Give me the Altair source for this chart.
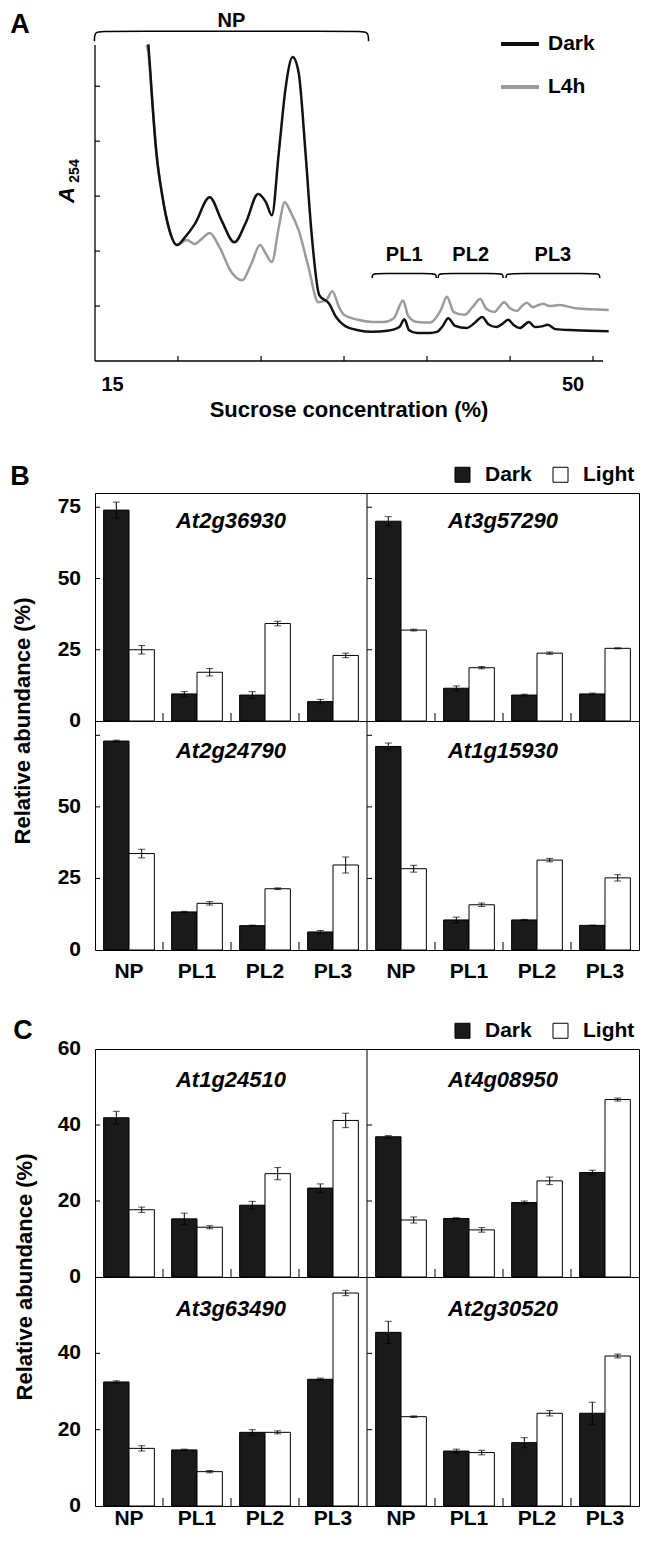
import altair as alt
import pandas as pd

FONT = "Liberation Sans"

# ---------------- Panel A data (sucrose %, A254 arbitrary units) ----------------
sucrose_dark = [18.75, 18.89, 19.03, 19.31, 19.72, 20.21, 20.76, 21.32, 22.01, 23.06, 23.89, 24.79,
                25.62, 26.46, 27.01, 27.43, 27.92, 28.40, 28.89, 29.31, 29.79, 30.21, 30.76, 31.46,
                31.94, 32.50, 33.47, 34.51, 35.55, 36.39, 36.74, 37.08, 37.64, 38.56, 39.03, 39.45,
                39.82, 40.30, 41.11, 41.67, 42.21, 42.64, 43.19, 43.61, 44.03, 44.44, 44.86, 45.50,
                45.90, 46.40, 46.83, 47.36, 48.75, 51.10]
a254_dark = [5.76, 5.25, 4.71, 3.80, 3.02, 2.40, 2.11, 2.25, 2.49, 2.98, 2.56, 2.16,
             2.53, 3.04, 2.89, 2.65, 3.80, 4.98, 5.53, 5.25, 3.80, 2.35, 1.20, 1.04,
             0.80, 0.65, 0.56, 0.53, 0.55, 0.62, 0.76, 0.56, 0.51, 0.51, 0.53, 0.64,
             0.78, 0.64, 0.60, 0.69, 0.80, 0.67, 0.62, 0.67, 0.75, 0.65, 0.60, 0.71,
             0.62, 0.63, 0.66, 0.58, 0.56, 0.54]
sucrose_l4h = [18.61, 18.75, 18.89, 19.03, 19.31, 19.72, 20.21, 20.76, 21.46, 22.01, 22.57, 23.06,
               23.75, 24.58, 25.35, 25.97, 26.60, 27.01, 27.43, 27.92, 28.33, 28.75, 29.31, 30.00,
               30.69, 31.25, 31.68, 32.15, 32.50, 33.47, 34.51, 35.27, 36.00, 36.65, 37.01, 37.64,
               38.56, 39.31, 39.73, 40.21, 40.97, 41.53, 42.07, 42.50, 43.06, 43.40, 43.75, 44.17,
               44.65, 45.00, 45.35, 45.76, 46.18, 46.48, 46.94, 47.67, 48.75, 51.10]
a254_l4h = [5.75, 5.62, 5.20, 4.71, 3.80, 3.02, 2.40, 2.11, 2.20, 2.13, 2.24, 2.33,
            2.07, 1.62, 1.47, 1.76, 2.11, 1.95, 1.80, 2.44, 2.89, 2.71, 2.38, 1.71,
            1.07, 1.11, 1.27, 0.98, 0.84, 0.75, 0.71, 0.71, 0.78, 1.10, 0.82, 0.71,
            0.70, 0.93, 1.17, 0.89, 0.84, 0.98, 1.13, 0.95, 0.89, 0.98, 1.07, 0.96,
            0.91, 1.00, 1.06, 0.98, 1.02, 1.04, 1.00, 1.02, 0.96, 0.93]

a_xdomain = [15, 50.7]
a_ydomain = [0, 5.75]
a_xticks = [20.83, 26.67, 32.5, 38.33, 44.17, 50]
a_yticks = [1, 2, 3, 4, 5]
a_xlabels = ["15", "50"]
a_xlabel_pos = [15, 50]

bracket_names = ["NP", "PL1", "PL2", "PL3"]
bracket_start = [14.96, 34.48, 39.12, 43.89]
bracket_end = [34.22, 38.98, 43.68, 50.47]
bracket_top = [6.00, 1.59, 1.59, 1.59]
bracket_foot = [5.82, 1.51, 1.51, 1.51]
bracket_label_y = [6.194, 1.93, 1.93, 1.93]

# ---------------- Panels B and C data (relative abundance %) ----------------
fractions = ["NP", "PL1", "PL2", "PL3"]
conditions = ["Dark", "Light"]

b_genes = ["At2g36930", "At3g57290", "At2g24790", "At1g15930"]
b_dark = [[74.0, 9.5, 9.1, 6.8], [70.1, 11.5, 9.1, 9.5], [73.0, 13.3, 8.5, 6.3], [71.1, 10.5, 10.5, 8.6]]
b_dark_err = [[2.8, 0.8, 1.2, 0.8], [1.6, 0.8, 0.3, 0.3], [0.3, 0.2, 0.2, 0.5], [1.2, 1.0, 0.2, 0.1]]
b_light = [[25.0, 17.1, 34.2, 23.0], [31.9, 18.7, 23.8, 25.5], [33.7, 16.3, 21.4, 29.7], [28.4, 15.8, 31.4, 25.2]]
b_light_err = [[1.5, 1.3, 0.8, 0.8], [0.3, 0.4, 0.4, 0.2], [1.5, 0.6, 0.3, 2.8], [1.2, 0.6, 0.6, 1.1]]

c_genes = ["At1g24510", "At4g08950", "At3g63490", "At2g30520"]
c_dark = [[41.9, 15.3, 18.9, 23.4], [36.9, 15.4, 19.6, 27.5], [32.5, 14.7, 19.3, 33.2], [45.5, 14.4, 16.6, 24.3]]
c_dark_err = [[1.7, 1.5, 1.0, 1.1], [0.3, 0.2, 0.4, 0.6], [0.3, 0.2, 0.7, 0.3], [2.9, 0.5, 1.3, 2.9]]
c_light = [[17.7, 13.1, 27.2, 41.2], [15.0, 12.4, 25.3, 46.7], [15.1, 9.0, 19.3, 55.8], [23.4, 14.0, 24.3, 39.3]]
c_light_err = [[0.7, 0.4, 1.6, 1.9], [0.8, 0.6, 1.0, 0.4], [0.7, 0.3, 0.4, 0.7], [0.2, 0.6, 0.7, 0.5]]

b_tick_values = [25, 50, 75]
b_label_top = ["0", "25", "50", "75"]
b_label_bottom = ["0", "25", "50"]
c_tick_values = [20, 40]
c_label_top = ["0", "20", "40", "60"]
c_label_bottom = ["0", "20", "40"]

W = 544          # width of each bar row (two panels)
A_W, A_H = 508, 316


def text_layer(txt, x, y, size, angle=0, style="normal", weight="bold", align="center"):
    return alt.Chart(pd.DataFrame({"t": [txt]})).mark_text(
        font=FONT, fontSize=size, fontWeight=weight, fontStyle=style, angle=angle,
        align=align, baseline="middle", color="black"
    ).encode(x=alt.value(x), y=alt.value(y), text="t:N")


def anchor(x, y, x2, y2):
    # invisible hairline that fixes an outer edge of the figure
    return alt.Chart(pd.DataFrame({"t": [0]})).mark_rule(strokeOpacity=0, strokeWidth=1).encode(
        x=alt.value(x), x2=alt.value(x2), y=alt.value(y), y2=alt.value(y2))


# ---------------- Panel A ----------------
dfA = pd.concat([
    pd.DataFrame({"suc": sucrose_dark, "a": a254_dark, "series": "Dark"}),
    pd.DataFrame({"suc": sucrose_l4h, "a": a254_l4h, "series": "L4h"}),
])
xA = alt.Scale(domain=a_xdomain, nice=False, zero=False)
yA = alt.Scale(domain=a_ydomain, nice=False, zero=True)
stroke_scale = alt.Scale(domain=["Dark", "L4h"], range=["#111111", "#9b9b9b"])
legA = alt.Legend(orient="none", legendX=404, legendY=-22, title=None, symbolType="stroke",
                  symbolSize=1444, symbolStrokeWidth=4, labelFontSize=21, labelFontWeight="bold",
                  labelFont=FONT, labelOffset=7, rowPadding=12, padding=0, direction="vertical")

base_lines = alt.Chart(dfA).mark_line(strokeWidth=2.5, interpolate="monotone")
gray_line = base_lines.transform_filter(alt.datum.series == "L4h").encode(
    x=alt.X("suc:Q", scale=xA, axis=None),
    y=alt.Y("a:Q", scale=yA, axis=None),
    stroke=alt.Stroke("series:N", scale=stroke_scale, legend=legA),
)
dark_line = base_lines.transform_filter(alt.datum.series == "Dark").encode(
    x=alt.X("suc:Q", scale=xA, axis=None),
    y=alt.Y("a:Q", scale=yA, axis=None),
    stroke=alt.Stroke("series:N", scale=stroke_scale, legend=legA),
)

axis_lines = pd.DataFrame({"x0": [a_xdomain[0], a_xdomain[0]], "x1": [a_xdomain[1], a_xdomain[0]],
                           "y0": [0, 0], "y1": [0, a_ydomain[1]]})
a_axes = alt.Chart(axis_lines).mark_rule(color="black", strokeWidth=1.3).encode(
    x=alt.X("x0:Q", scale=xA, axis=None), x2="x1:Q",
    y=alt.Y("y0:Q", scale=yA, axis=None), y2="y1:Q")
a_xt = alt.Chart(pd.DataFrame({"t": a_xticks})).mark_rule(color="black", strokeWidth=1.2).encode(
    x=alt.X("t:Q", scale=xA, axis=None), y=alt.value(A_H - 5), y2=alt.value(A_H))
a_yt = alt.Chart(pd.DataFrame({"t": a_yticks})).mark_rule(color="black", strokeWidth=1.2).encode(
    y=alt.Y("t:Q", scale=yA, axis=None), x=alt.value(0), x2=alt.value(5))

brows = []
for k, name in enumerate(bracket_names):
    r = 0.7 if name == "NP" else 0.5
    x0, x1, yt, yb = bracket_start[k], bracket_end[k], bracket_top[k], bracket_foot[k]
    pts = [(x0, yb), (x0, yt), (x0 + r, yt), (x1 - r, yt), (x1, yt), (x1, yb)]
    for i, (px, py) in enumerate(pts):
        brows.append({"name": name, "i": i, "bx": px, "by": py})
dfBr = pd.DataFrame(brows)
brackets = alt.Chart(dfBr).mark_line(interpolate="basis", color="black", strokeWidth=1.5).encode(
    x=alt.X("bx:Q", scale=xA, axis=None), y=alt.Y("by:Q", scale=yA, axis=None),
    detail="name:N", order="i:Q")
dfBl = pd.DataFrame({"name": bracket_names,
                     "mx": [(s + e) / 2 for s, e in zip(bracket_start, bracket_end)],
                     "my": bracket_label_y})
bracket_labels = alt.Chart(dfBl).mark_text(font=FONT, fontSize=20, fontWeight="bold",
                                           color="black", baseline="middle").encode(
    x=alt.X("mx:Q", scale=xA, axis=None), y=alt.Y("my:Q", scale=yA, axis=None), text="name:N")

# "15" and "50" labels need different horizontal nudges -> two text layers
a_l15 = alt.Chart(pd.DataFrame({"p": [a_xlabel_pos[0]], "lab": [a_xlabels[0]]})).mark_text(
    font=FONT, fontSize=20, fontWeight="bold", color="black", baseline="middle", dx=17.5).encode(
    x=alt.X("p:Q", scale=xA, axis=None), y=alt.value(A_H + 24), text="lab:N")
a_l50 = alt.Chart(pd.DataFrame({"p": [a_xlabel_pos[1]], "lab": [a_xlabels[1]]})).mark_text(
    font=FONT, fontSize=20, fontWeight="bold", color="black", baseline="middle", dx=-20).encode(
    x=alt.X("p:Q", scale=xA, axis=None), y=alt.value(A_H + 24), text="lab:N")

panelA = alt.layer(
    anchor(-86.5, 0, -86.5, 10), anchor(0, -37, 10, -37),
    a_axes, a_xt, a_yt, a_l15, a_l50, brackets, bracket_labels, gray_line, dark_line,
    text_layer("A", -75, -20, 27),
    text_layer("A", -28, 150, 22, angle=270, style="italic"),
    text_layer("254", -20, 126, 14, angle=270),
    text_layer("Sucrose concentration (%)", A_W / 2, A_H + 49, 22),
).properties(width=A_W, height=A_H, view=alt.ViewBackground(stroke=None))


# ---------------- Bar rows ----------------
def bar_row(iL, iR, genes, dark, dark_err, light, light_err, ymax, tick_values, labels,
            show_x, gene_y, height, legend, extras, xlab_gap):
    rows = []
    for side, gi in (("a", iL), ("b", iR)):
        for j, f in enumerate(fractions):
            for cond, vals, errs in (("Dark", dark, dark_err), ("Light", light, light_err)):
                v = vals[gi][j]
                e = errs[gi][j]
                rows.append({"cat": f"{side}_{f}", "cond": cond, "value": v, "lo": v - e, "hi": v + e})
    df = pd.DataFrame(rows)
    cats = [f"{s}_{f}" for s in "ab" for f in fractions]
    xscale = alt.Scale(domain=cats, paddingInner=0, paddingOuter=0)
    yscale = alt.Scale(domain=[0, ymax], nice=False, zero=True)
    offscale = alt.Scale(domain=conditions, paddingInner=0, paddingOuter=0.34)
    X = alt.X("cat:N", scale=xscale, axis=None)
    XO = alt.XOffset("cond:N", scale=offscale)
    Xb = alt.X("cat:N", scale=xscale, bandPosition=0, axis=None)

    bars = alt.Chart(df).mark_bar(stroke="black", strokeWidth=1).encode(
        x=X, xOffset=XO, y=alt.Y("value:Q", scale=yscale, axis=None),
        fill=alt.Fill("cond:N", scale=alt.Scale(domain=conditions, range=["#1a1a1a", "#ffffff"]),
                      legend=legend))
    err = alt.Chart(df).mark_rule(color="black", strokeWidth=1).encode(
        x=X, xOffset=XO, y=alt.Y("lo:Q", scale=yscale, axis=None), y2="hi:Q")
    cap_lo = alt.Chart(df).mark_tick(orient="horizontal", size=7, thickness=1, color="black").encode(
        x=X, xOffset=XO, y=alt.Y("lo:Q", scale=yscale, axis=None))
    cap_hi = alt.Chart(df).mark_tick(orient="horizontal", size=7, thickness=1, color="black").encode(
        x=X, xOffset=XO, y=alt.Y("hi:Q", scale=yscale, axis=None))

    divider = alt.Chart(pd.DataFrame({"cat": ["b_NP"]})).mark_rule(color="black", strokeWidth=1).encode(
        x=Xb)
    inner = [c for c in cats if not c.endswith("_NP")]
    xticks = alt.Chart(pd.DataFrame({"cat": inner})).mark_rule(color="black", strokeWidth=1).encode(
        x=Xb, y=alt.value(height - 8), y2=alt.value(height))
    tdf = pd.DataFrame({"v": tick_values})
    ylt = alt.Chart(tdf).mark_rule(color="black", strokeWidth=1).encode(
        y=alt.Y("v:Q", scale=yscale, axis=None), x=alt.value(0), x2=alt.value(5))
    yrt = alt.Chart(tdf).mark_rule(color="black", strokeWidth=1).encode(
        y=alt.Y("v:Q", scale=yscale, axis=None), x=alt.value(W / 2), x2=alt.value(W / 2 + 5))
    ylab = alt.Chart(pd.DataFrame({"v": [float(s) for s in labels], "lab": labels})).mark_text(
        font=FONT, fontSize=21, fontWeight="bold", color="black", align="right",
        baseline="middle").encode(y=alt.Y("v:Q", scale=yscale, axis=None), x=alt.value(-14),
                                  text="lab:N")
    glab = alt.Chart(pd.DataFrame({"cat": ["a_PL2", "b_PL2"], "gene": [genes[iL], genes[iR]]})).mark_text(
        font=FONT, fontSize=22, fontStyle="italic", fontWeight="bold", color="black",
        baseline="middle").encode(x=Xb, y=alt.value(gene_y), text="gene:N")
    layers = [anchor(-86.5, 0, -86.5, 10), bars, err, cap_lo, cap_hi, divider, xticks, ylt, yrt,
              ylab, glab]
    if show_x:
        xlab = alt.Chart(pd.DataFrame({"cat": cats, "lab": [c.split("_")[1] for c in cats]})).mark_text(
            font=FONT, fontSize=21, fontWeight="bold", color="black", baseline="middle").encode(
            x=X, y=alt.value(height + xlab_gap), text="lab:N")
        layers.append(xlab)
    return alt.layer(*layers, *extras).properties(
        width=W, height=height, view=alt.ViewBackground(stroke="black", strokeWidth=1))


def bar_legend():
    return alt.Legend(orient="none", legendX=357, legendY=-29, direction="horizontal", title=None,
                      symbolType="square", symbolSize=225, symbolStrokeColor="black",
                      symbolStrokeWidth=1, labelFontSize=21, labelFontWeight="bold", labelFont=FONT,
                      labelOffset=12, columnPadding=18, padding=0)


B1 = bar_row(0, 1, b_genes, b_dark, b_dark_err, b_light, b_light_err, 80, b_tick_values, b_label_top,
             False, 28, 228, bar_legend(),
             [text_layer("B", -75, -16, 27),
              text_layer("Relative abundance (%)", -72, 228, 22, angle=270)], 0)
B2 = bar_row(2, 3, b_genes, b_dark, b_dark_err, b_light, b_light_err, 80, b_tick_values, b_label_bottom,
             True, 30, 229, None, [], 22)
C1 = bar_row(0, 1, c_genes, c_dark, c_dark_err, c_light, c_light_err, 60, c_tick_values, c_label_top,
             False, 31, 228, bar_legend(),
             [text_layer("C", -72, -18, 27),
              text_layer("Relative abundance (%)", -70, 228, 22, angle=270)], 0)
C2 = bar_row(2, 3, c_genes, c_dark, c_dark_err, c_light, c_light_err, 60, c_tick_values, c_label_bottom,
             True, 32, 229, None, [], 12.5)


def spacer(h):
    return alt.Chart(pd.DataFrame({"s": [0]})).mark_point(opacity=0).encode(
        x=alt.value(0), y=alt.value(0)).properties(width=W, height=h,
                                                    view=alt.ViewBackground(stroke=None))


chart = alt.vconcat(
    panelA, spacer(131.5), B1, B2, spacer(99), C1, C2, spacing=0, bounds="flush"
).resolve_scale(
    fill="independent", stroke="independent", x="independent", y="independent"
).resolve_legend(fill="independent", stroke="independent").properties(
    padding={"left": 0, "top": 0, "right": 0, "bottom": 0}
).configure(font=FONT).configure_view(stroke=None)

chart.save("out.html", embed_options={"renderer": "svg", "actions": False})
